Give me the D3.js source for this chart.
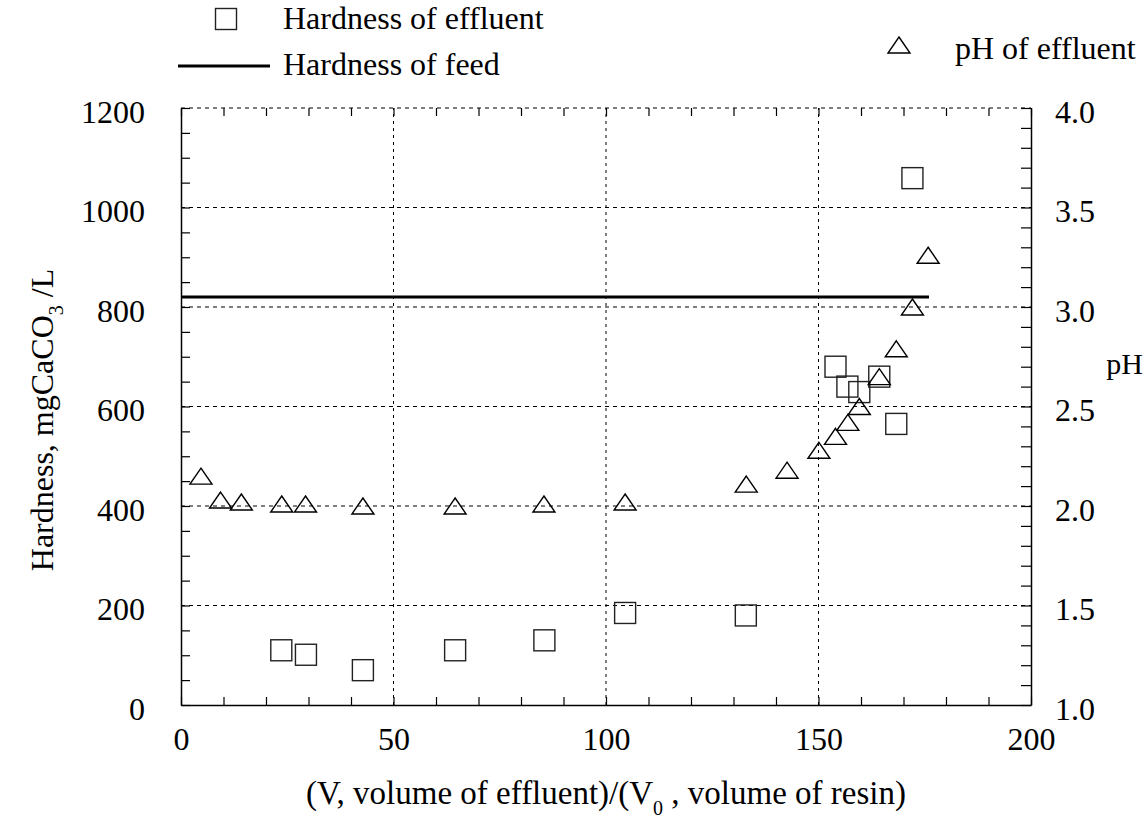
<html>
<head>
  <meta charset="utf-8" />
  <script src="https://cdnjs.cloudflare.com/ajax/libs/d3/7.8.5/d3.min.js"></script>
  <style>
    body { margin: 0; background: #fff; }
    svg text { font-family: "Liberation Serif", "Times New Roman", serif; fill: #000; }
    .tick > text { font-size: 32px; }
    .grid line { stroke: #000; stroke-width: 1; }
  </style>
</head>
<body>
  <svg></svg>
  <script>
  // hardness of effluent (squares)
  const hardX = [23.6, 29.4, 42.8, 64.5, 85.5, 104.5, 132.9, 154.0, 156.8, 159.6, 164.3, 168.3, 172.1]
  const hardY = [110, 101, 70, 110, 130, 185, 180, 680, 640, 629, 660, 565, 1059]
  // pH of effluent (triangles)
  const phX = [4.7, 9.3, 14.2, 23.7, 29.3, 42.8, 64.5, 85.4, 104.5, 133.0, 142.6, 150.1, 154.0, 156.9, 159.6, 164.3, 168.3, 172.1, 175.8]
  const phY = [2.15, 2.03, 2.02, 2.01, 2.01, 2.00, 2.00, 2.01, 2.02, 2.11, 2.18, 2.28, 2.35, 2.42, 2.50, 2.65, 2.79, 3.00, 3.26]
  // hardness of feed (solid line)
  const feedX = [0, 176]
  const feedHardness = 820

  const xTicks = [0, 50, 100, 150, 200]
  const hardTicks = [0, 200, 400, 600, 800, 1000, 1200]
  const phTicks = [1.0, 1.5, 2.0, 2.5, 3.0, 3.5, 4.0]

  const svg = d3.select("svg").attr("width", 1144).attr("height", 821)

  const xScale = d3.scaleLinear().domain([0, 200]).range([181, 1031])
  const yScale = d3.scaleLinear().domain([0, 1200]).range([705, 108])
  const phScale = d3.scaleLinear().domain([1, 4]).range([705, 108])

  // dashed grid
  const grid = svg.append("g").attr("class", "grid")
  grid.selectAll("line.h").data(hardTicks.slice(1)).enter().append("line")
    .attr("class", "h")
    .attr("x1", xScale(0)).attr("x2", xScale(200))
    .attr("y1", d => yScale(d)).attr("y2", d => yScale(d))
    .attr("stroke-dasharray", "4,4")
  grid.selectAll("line.v").data(xTicks.slice(1, -1)).enter().append("line")
    .attr("class", "v")
    .attr("x1", d => xScale(d)).attr("x2", d => xScale(d))
    .attr("y1", yScale(0)).attr("y2", yScale(1200))
    .attr("stroke-dasharray", "3,4")

  // axes: minor ticks every 10 / 50 / 0.1, labels only on major values
  const xAxis = d3.axisBottom(xScale)
    .tickValues(d3.range(0, 201, 10))
    .tickSizeInner(-8).tickSizeOuter(0).tickPadding(22)
    .tickFormat(d => d % 50 === 0 ? d : "")
  const xTop = d3.axisTop(xScale)
    .tickValues(d3.range(0, 201, 10))
    .tickSizeInner(-8).tickSizeOuter(0)
    .tickFormat("")
  const yAxis = d3.axisLeft(yScale)
    .tickValues(d3.range(0, 1201, 50))
    .tickSizeInner(-9).tickSizeOuter(0).tickPadding(36)
    .tickFormat(d => d % 200 === 0 ? d : "")
  const phAxis = d3.axisRight(phScale)
    .tickValues(d3.range(10, 41, 1).map(d => d / 10))
    .tickSizeInner(-10).tickSizeOuter(0).tickPadding(24)
    .tickFormat(d => phTicks.some(t => Math.abs(t - d) < 1e-6) ? d3.format(".1f")(d) : "")

  svg.append("g").attr("transform", "translate(0,705)").call(xAxis)
  svg.append("g").attr("transform", "translate(0,108)").call(xTop)
    .select(".domain").remove()
  svg.append("g").attr("transform", "translate(181,0)").call(yAxis)
    .selectAll("text").attr("dy", "0.45em")
  svg.append("g").attr("transform", "translate(1031,0)").call(phAxis)
    .selectAll("text").attr("dy", "0.45em")
  svg.selectAll(".domain").attr("stroke", "#000").attr("stroke-width", 1.5)
  svg.selectAll(".tick line").attr("stroke", "#000").attr("stroke-width", 1.2)

  // feed line
  svg.append("path")
    .attr("d", d3.line()(feedX.map(v => [xScale(v), yScale(feedHardness)])))
    .attr("stroke", "#000").attr("stroke-width", 3).attr("fill", "none")

  // markers
  const tri = "M0,-8L11,8L-11,8Z"
  svg.selectAll("rect.hard").data(hardX).enter().append("rect")
    .attr("class", "hard")
    .attr("x", d => xScale(d) - 10.5)
    .attr("y", (d, i) => yScale(hardY[i]) - 10.5)
    .attr("width", 21).attr("height", 21)
    .attr("fill", "none").attr("stroke", "#222").attr("stroke-width", 1.4)
  svg.selectAll("path.ph").data(phX).enter().append("path")
    .attr("class", "ph")
    .attr("d", tri)
    .attr("transform", (d, i) => `translate(${xScale(d)},${phScale(phY[i])})`)
    .attr("fill", "none").attr("stroke", "#000").attr("stroke-width", 1.4)

  // legend
  svg.append("rect").attr("x", 215.5).attr("y", 8.5).attr("width", 21).attr("height", 21)
    .attr("fill", "none").attr("stroke", "#222").attr("stroke-width", 1.4)
  svg.append("text").attr("x", 283).attr("y", 29).attr("font-size", 32).text("Hardness of effluent")
  svg.append("line").attr("x1", 178).attr("x2", 270).attr("y1", 66).attr("y2", 66)
    .attr("stroke", "#000").attr("stroke-width", 3)
  svg.append("text").attr("x", 283).attr("y", 75).attr("font-size", 32).text("Hardness of feed")
  svg.append("path").attr("d", tri).attr("transform", "translate(899,45)")
    .attr("fill", "none").attr("stroke", "#000").attr("stroke-width", 1.4)
  svg.append("text").attr("x", 955).attr("y", 59).attr("font-size", 32).text("pH of effluent")

  // axis titles
  const xt = svg.append("text").attr("x", 606).attr("y", 804)
    .attr("text-anchor", "middle").attr("font-size", 33)
  xt.append("tspan").text("(V, volume of effluent)/(V")
  xt.append("tspan").attr("font-size", 20).attr("dy", 11).text("0")
  xt.append("tspan").attr("dy", -11).text(" , volume of resin)")

  const yt = svg.append("text").attr("transform", "translate(53,420) rotate(-90)")
    .attr("text-anchor", "middle").attr("font-size", 32)
  yt.append("tspan").text("Hardness, mgCaCO")
  yt.append("tspan").attr("font-size", 20).attr("dy", 10).text("3")
  yt.append("tspan").attr("dy", -10).text(" /L")

  svg.append("text").attr("x", 1143).attr("y", 374).attr("text-anchor", "end")
    .attr("font-size", 30).text("pH")
  </script>
</body>
</html>
